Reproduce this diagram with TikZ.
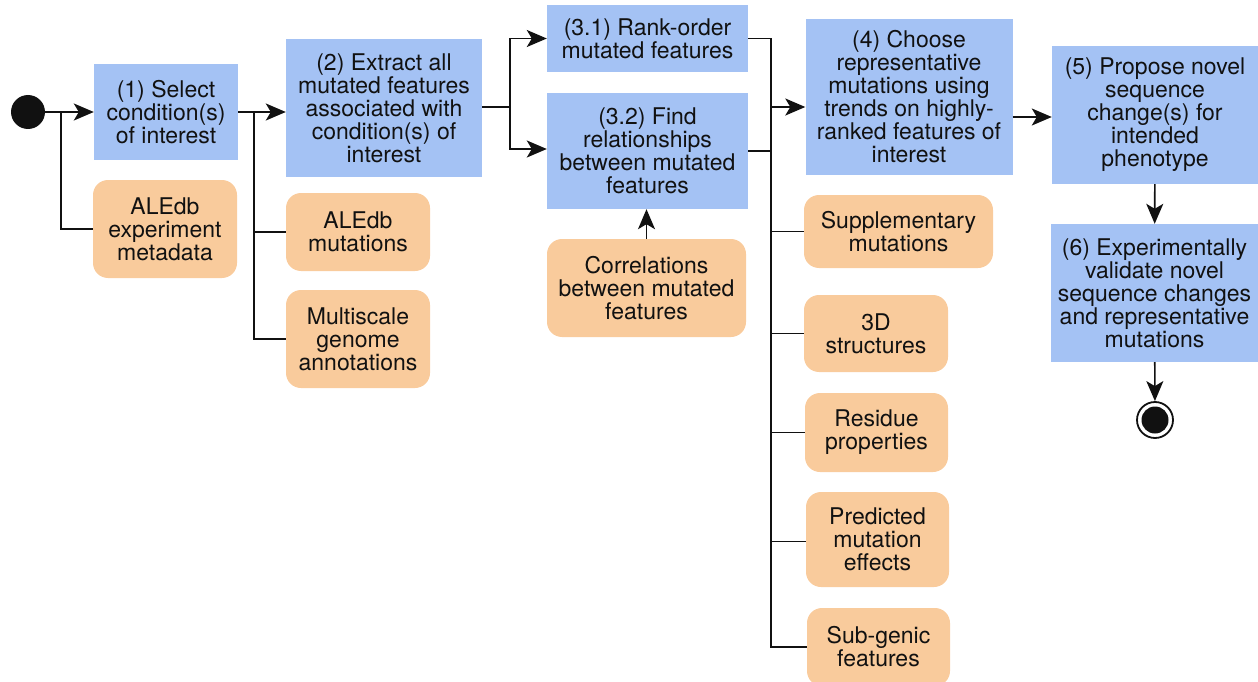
\documentclass[tikz,border=0pt]{standalone}
\usepackage{fontspec}
\setmainfont{TeX Gyre Heros}
\usetikzlibrary{arrows.meta}
\definecolor{boxblue}{HTML}{A4C2F4}
\definecolor{boxorange}{HTML}{F9CB9C}
\definecolor{ink}{HTML}{111111}
\tikzset{
  base/.style={inner sep=0pt, align=center, font=\fontsize{23}{23}\selectfont, text=ink},
  bluebox/.style={base, fill=boxblue, rectangle},
  orangebox/.style={base, fill=boxorange, rectangle, rounded corners=15pt},
  conn/.style={draw=ink, line width=1.6pt},
  arr/.style={conn, -{Stealth[length=20pt,width=17pt,inset=5pt]}},
}
\begin{document}
\begin{tikzpicture}[x=1pt,y=-1pt]
\useasboundingbox (0,0) rectangle (1258,682);
% start / end
\node[circle, fill=ink, minimum size=34pt, inner sep=0pt] (start) at (28,112) {};
% step boxes
\node[bluebox, minimum width=144pt, minimum height=96pt] (s1) at (166,112) {(1) Select\\condition(s)\\of interest};
\node[orangebox, minimum width=144pt, minimum height=98pt] (meta) at (165,229) {ALEdb\\experiment\\metadata};
\node[bluebox, minimum width=196pt, minimum height=137pt] (s2) at (384,108) {(2) Extract all\\mutated features\\associated with\\condition(s) of\\interest};
\node[orangebox, minimum width=144pt, minimum height=78pt] (alem) at (358,232) {ALEdb\\mutations};
\node[orangebox, minimum width=144pt, minimum height=98pt] (multi) at (358,339) {Multiscale\\genome\\annotations};
\node[bluebox, minimum width=201pt, minimum height=67pt] (s31) at (647.5,38.5) {(3.1) Rank-order\\mutated features};
\node[bluebox, minimum width=201pt, minimum height=116pt] (s32) at (647.5,151) {(3.2) Find\\relationships\\between mutated\\features};
\node[orangebox, minimum width=199pt, minimum height=98pt] (corr) at (646.5,288) {Correlations\\between mutated\\features};
\node[bluebox, minimum width=207pt, minimum height=156pt] (s4) at (909,97) {(4) Choose\\representative\\mutations using\\trends on highly-\\ranked features of\\interest};
\node[orangebox, minimum width=189pt, minimum height=73pt] (supp) at (898.5,231.5) {Supplementary\\mutations};
\node[orangebox, minimum width=144pt, minimum height=77pt] (struct) at (876,333.5) {3D\\structures};
\node[orangebox, minimum width=143pt, minimum height=79pt] (resid) at (876.5,432.5) {Residue\\properties};
\node[orangebox, minimum width=143pt, minimum height=95pt] (pred) at (877.5,539.5) {Predicted\\mutation\\effects};
\node[orangebox, minimum width=143pt, minimum height=78pt] (subg) at (878.5,647) {Sub-genic\\features};
\node[bluebox, minimum width=206pt, minimum height=138pt] (s5) at (1155,115) {(5) Propose novel\\sequence\\change(s) for\\intended\\phenotype};
\node[bluebox, minimum width=207pt, minimum height=138pt] (s6) at (1154.5,293) {(6) Experimentally\\validate novel\\sequence changes\\and representative\\mutations};
\node[circle, draw=ink, fill=white, line width=1.8pt, minimum size=36pt, inner sep=0pt] (endc) at (1155,420) {};
\fill[ink] (endc.center) circle (13.5pt);
% junctions
\coordinate (j1) at (61,112);
\coordinate (j2) at (254,112);
\coordinate (j3) at (510,107);
\coordinate (j4) at (771,107);
% connectors
\draw[arr] (start) -- (s1);
\draw[conn] (j1) |- (meta.west);
\draw[arr] (s1.east) -- (s1.east -| s2.west);
\draw[conn] (j2) |- (alem.west);
\draw[conn] (j2) |- (multi.west);
\draw[conn] (s2.east |- j3) -- (j3);
\draw[arr] (j3) |- (s31.west);
\draw[arr] ([yshift=2pt]j3) |- ([yshift=2pt]s32.west);
\draw[conn] (s31.east) -| (j4);
\draw[conn] (s32.east) -| (j4);
\draw[arr] (j4) -- (j4 -| s4.west);
\draw[conn] (supp.west) -- (supp.west -| j4);
\draw[conn] (struct.west) -- (struct.west -| j4);
\draw[conn] (resid.west) -- (resid.west -| j4);
\draw[conn] ([yshift=-2pt]pred.west) -- ([yshift=-2pt]pred.west -| j4);
\draw[conn] (j4) |- (subg.west);
\draw[arr] (corr.north) -- (corr.north |- s32.south);
\draw[arr] ([yshift=-2pt]s5.west -| s4.east) -- ([yshift=-2pt]s5.west);
\draw[arr] (s5) -- (s6);
\draw[arr] (s6) -- (endc);
\end{tikzpicture}
\end{document}
